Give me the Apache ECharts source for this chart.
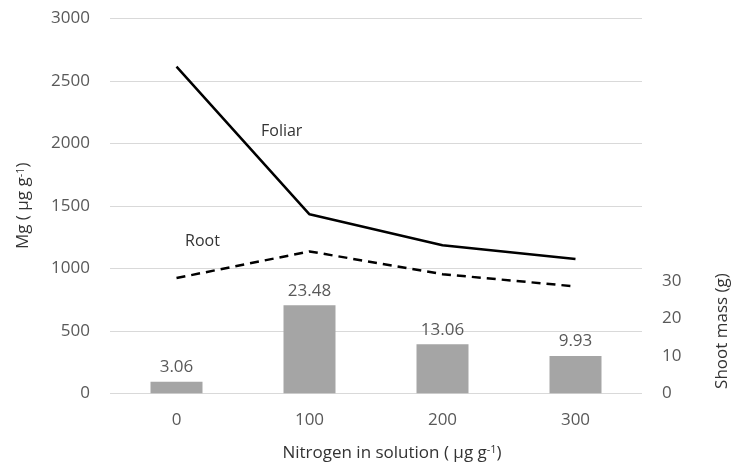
<!DOCTYPE html>
<html><head><meta charset="utf-8">
<script src="https://cdn.jsdelivr.net/npm/echarts@6/dist/echarts.min.js"></script>
<style>html,body{margin:0;padding:0;background:#fff}#c{width:731px;height:468px}</style>
</head><body><div id="c"></div>
<script>
const categories = ['0', '100', '200', '300'];
const foliar = [2613, 1432, 1185, 1075];
const root = [922, 1135, 953, 855];
const shootMass = [3.06, 23.48, 13.06, 9.93];
const leftTicks = [0, 3000, 500];
const rightTicks = [0, 30, 10];

const FONT = '"Open Sans", sans-serif';
const GRAY = '#595959';
const chart = echarts.init(document.getElementById('c'));
chart.setOption({
  animation: false,
  grid: [
    {left: 110, right: 89, top: 18.3, bottom: 74.7, outerBoundsMode: 'none', containLabel: false},
    {left: 110, right: 89, top: 280.8, bottom: 74.7, outerBoundsMode: 'none', containLabel: false}
  ],
  xAxis: [
    {type: 'category', gridIndex: 0, data: categories,
     axisLine: {show: false}, axisTick: {show: false},
     axisLabel: {color: GRAY, fontSize: 17, fontFamily: FONT, margin: 18},
     name: 'Nitrogen in solution ( µg g{sup|-1})',
     nameLocation: 'middle', nameGap: 51,
     nameTextStyle: {color: '#333', fontSize: 17, fontFamily: FONT, padding: [0, 0, 0, 32],
       rich: {sup: {fontSize: 11, verticalAlign: 'top', color: '#333', fontFamily: FONT}}}},
    {type: 'category', gridIndex: 1, data: categories, show: false}
  ],
  yAxis: [
    {type: 'value', gridIndex: 0, min: leftTicks[0], max: leftTicks[1], interval: leftTicks[2],
     axisLine: {show: false}, axisTick: {show: false},
     splitLine: {lineStyle: {color: '#d9d9d9', width: 1}},
     axisLabel: {color: GRAY, fontSize: 17, fontFamily: FONT, margin: 20, formatter: v => String(v)},
     name: 'Mg ( µg g{sup|-1})', nameLocation: 'middle', nameGap: 78, nameRotate: 90,
     nameTextStyle: {color: '#333', fontSize: 17, fontFamily: FONT,
       rich: {sup: {fontSize: 11, verticalAlign: 'top', color: '#333', fontFamily: FONT}}}},
    {type: 'value', gridIndex: 1, position: 'right', min: rightTicks[0], max: rightTicks[1], interval: rightTicks[2],
     axisLine: {show: false}, axisTick: {show: false}, splitLine: {show: false},
     axisLabel: {color: GRAY, fontSize: 17, fontFamily: FONT, margin: 20},
     name: 'Shoot mass (g)', nameLocation: 'middle', nameGap: 72, nameRotate: 90,
     nameTextStyle: {color: '#333', fontSize: 17, fontFamily: FONT, padding: [0, 0, 0, 12]}}
  ],
  series: [
    {type: 'bar', xAxisIndex: 1, yAxisIndex: 1, data: shootMass, barWidth: 52,
     itemStyle: {color: '#a5a5a5'},
     label: {show: true, position: 'top', distance: 6, color: GRAY, fontSize: 17, fontFamily: FONT,
       formatter: p => p.value.toFixed(2)}},
    {type: 'line', name: 'Foliar', xAxisIndex: 0, yAxisIndex: 0, data: foliar, symbol: 'none',
     lineStyle: {color: '#000', width: 2.5}},
    {type: 'line', name: 'Root', xAxisIndex: 0, yAxisIndex: 0, data: root, symbol: 'none',
     lineStyle: {color: '#000', width: 2.5, type: [9, 6]}}
  ],
  graphic: [
    {type: 'text', left: 261, top: 123, style: {text: 'Foliar', fill: '#333', font: '16px "Open Sans", sans-serif'}},
    {type: 'text', left: 185, top: 233, style: {text: 'Root', fill: '#333', font: '16px "Open Sans", sans-serif'}}
  ]
});
</script></body></html>
